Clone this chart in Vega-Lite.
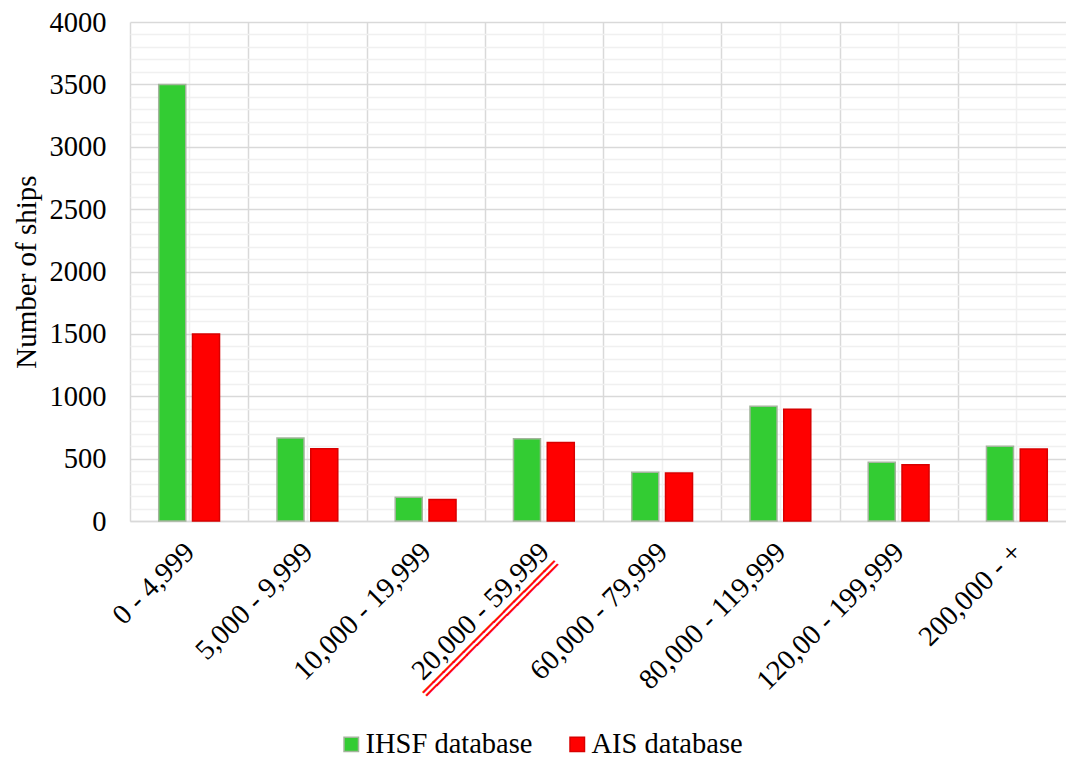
{
  "$schema": "https://vega.github.io/schema/vega-lite/v6.json",
  "width": 946,
  "height": 499,
  "autosize": {"type": "none"},
  "padding": {"left": 130, "top": 22, "right": 0, "bottom": 237},
  "background": "white",
  "config": {"font": "Liberation Serif, Times New Roman, serif", "view": {"stroke": null}},
  "data": {
    "values": [
      {"range": "0 - 4,999", "db": "IHSF database", "ships": 3500},
      {"range": "0 - 4,999", "db": "AIS database", "ships": 1500},
      {"range": "5,000 - 9,999", "db": "IHSF database", "ships": 665},
      {"range": "5,000 - 9,999", "db": "AIS database", "ships": 580},
      {"range": "10,000 - 19,999", "db": "IHSF database", "ships": 190},
      {"range": "10,000 - 19,999", "db": "AIS database", "ships": 172},
      {"range": "20,000 - 59,999", "db": "IHSF database", "ships": 660},
      {"range": "20,000 - 59,999", "db": "AIS database", "ships": 630},
      {"range": "60,000 - 79,999", "db": "IHSF database", "ships": 390},
      {"range": "60,000 - 79,999", "db": "AIS database", "ships": 385},
      {"range": "80,000 - 119,999", "db": "IHSF database", "ships": 920},
      {"range": "80,000 - 119,999", "db": "AIS database", "ships": 895},
      {"range": "120,00 - 199,999", "db": "IHSF database", "ships": 470},
      {"range": "120,00 - 199,999", "db": "AIS database", "ships": 450},
      {"range": "200,000 - +", "db": "IHSF database", "ships": 600},
      {"range": "200,000 - +", "db": "AIS database", "ships": 578}
    ]
  },
  "resolve": {"axis": {"x": "independent", "y": "independent"}},
  "layer": [
    {
      "mark": {"type": "bar", "opacity": 0},
      "encoding": {
        "x": {
          "field": "range", "type": "nominal", "sort": null,
          "scale": {"paddingInner": 0, "paddingOuter": 0},
          "axis": {"orient": "bottom", "title": null, "labels": false, "ticks": false, "domain": false, "grid": true, "gridColor": "#f0f0f0", "gridWidth": 1.5, "tickBand": "center"}
        },
        "y": {
          "field": "ships", "type": "quantitative",
          "scale": {"domain": [0, 4000], "nice": false},
          "axis": {"orient": "left", "title": null, "labels": false, "ticks": false, "domain": false, "grid": true, "gridColor": "#f0f0f0", "gridWidth": 1.5,
            "values": [100,200,300,400,600,700,800,900,1100,1200,1300,1400,1600,1700,1800,1900,2100,2200,2300,2400,2600,2700,2800,2900,3100,3200,3300,3400,3600,3700,3800,3900]}
        }
      }
    },
    {
      "mark": {"type": "bar", "strokeWidth": 1.5},
      "encoding": {
        "x": {
          "field": "range", "type": "nominal", "sort": null,
          "axis": {"orient": "bottom", "title": null, "labelAngle": -45, "labelAlign": "right", "labelBaseline": "middle", "labelFontSize": 28.5, "labelColor": "black", "labelPadding": 26, "labelLimit": 0,
            "tickBand": "extent", "grid": true, "gridColor": "#d9d9d9", "gridWidth": 1.5, "ticks": false, "domainColor": "#d9d9d9", "domainWidth": 1.5}
        },
        "xOffset": {
          "field": "db", "type": "nominal", "sort": ["IHSF database", "AIS database"],
          "scale": {"paddingInner": 0.2, "paddingOuter": 0.85}
        },
        "y": {
          "field": "ships", "type": "quantitative",
          "axis": {"orient": "left", "title": "Number of ships", "titleFontSize": 29, "titleFontWeight": "normal", "titleColor": "black", "titlePadding": 8,
            "labelFontSize": 28.5, "labelColor": "black", "labelPadding": 24, "ticks": false, "domain": false, "format": "d",
            "grid": true, "gridColor": "#d9d9d9", "gridWidth": 1.5,
            "values": [0,500,1000,1500,2000,2500,3000,3500,4000]}
        },
        "color": {
          "field": "db", "type": "nominal",
          "scale": {"domain": ["IHSF database", "AIS database"], "range": ["#33cc33", "#ff0000"]},
          "legend": {"title": null, "orient": "none", "legendX": 207, "legendY": 708, "direction": "horizontal",
            "symbolType": "square", "symbolSize": 210, "symbolStrokeWidth": 1.5, "labelFontSize": 28.5, "labelColor": "black", "columnPadding": 30, "labelOffset": 0, "labelLimit": 0}
        },
        "stroke": {
          "field": "db", "type": "nominal",
          "scale": {"domain": ["IHSF database", "AIS database"], "range": ["#a3b59c", "#d80000"]},
          "legend": {"title": null, "orient": "none", "legendX": 207, "legendY": 708, "direction": "horizontal",
            "symbolType": "square", "symbolSize": 210, "symbolStrokeWidth": 1.5, "labelFontSize": 28.5, "labelColor": "black", "columnPadding": 30, "labelOffset": 0, "labelLimit": 0}
        }
      }
    },
    {
      "transform": [{"filter": "datum.range === '20,000 - 59,999' && datum.db === 'IHSF database'"}],
      "mark": {"type": "text", "text": "_____________", "angle": 315, "align": "right", "baseline": "alphabetic", "fontSize": 28.5, "color": "#ff0000", "stroke": "#ff0000", "strokeWidth": 0.6, "dx": -21, "dy": 33, "clip": false},
      "encoding": {
        "x": {"field": "range", "type": "nominal", "sort": null, "axis": null},
        "y": {"datum": 0, "type": "quantitative", "axis": null}
      }
    },
    {
      "transform": [{"filter": "datum.range === '20,000 - 59,999' && datum.db === 'IHSF database'"}],
      "mark": {"type": "text", "text": "_____________", "angle": 315, "align": "right", "baseline": "alphabetic", "fontSize": 28.5, "color": "#ff0000", "stroke": "#ff0000", "strokeWidth": 0.6, "dx": -21, "dy": 37.5, "clip": false},
      "encoding": {
        "x": {"field": "range", "type": "nominal", "sort": null, "axis": null},
        "y": {"datum": 0, "type": "quantitative", "axis": null}
      }
    }
  ]
}
